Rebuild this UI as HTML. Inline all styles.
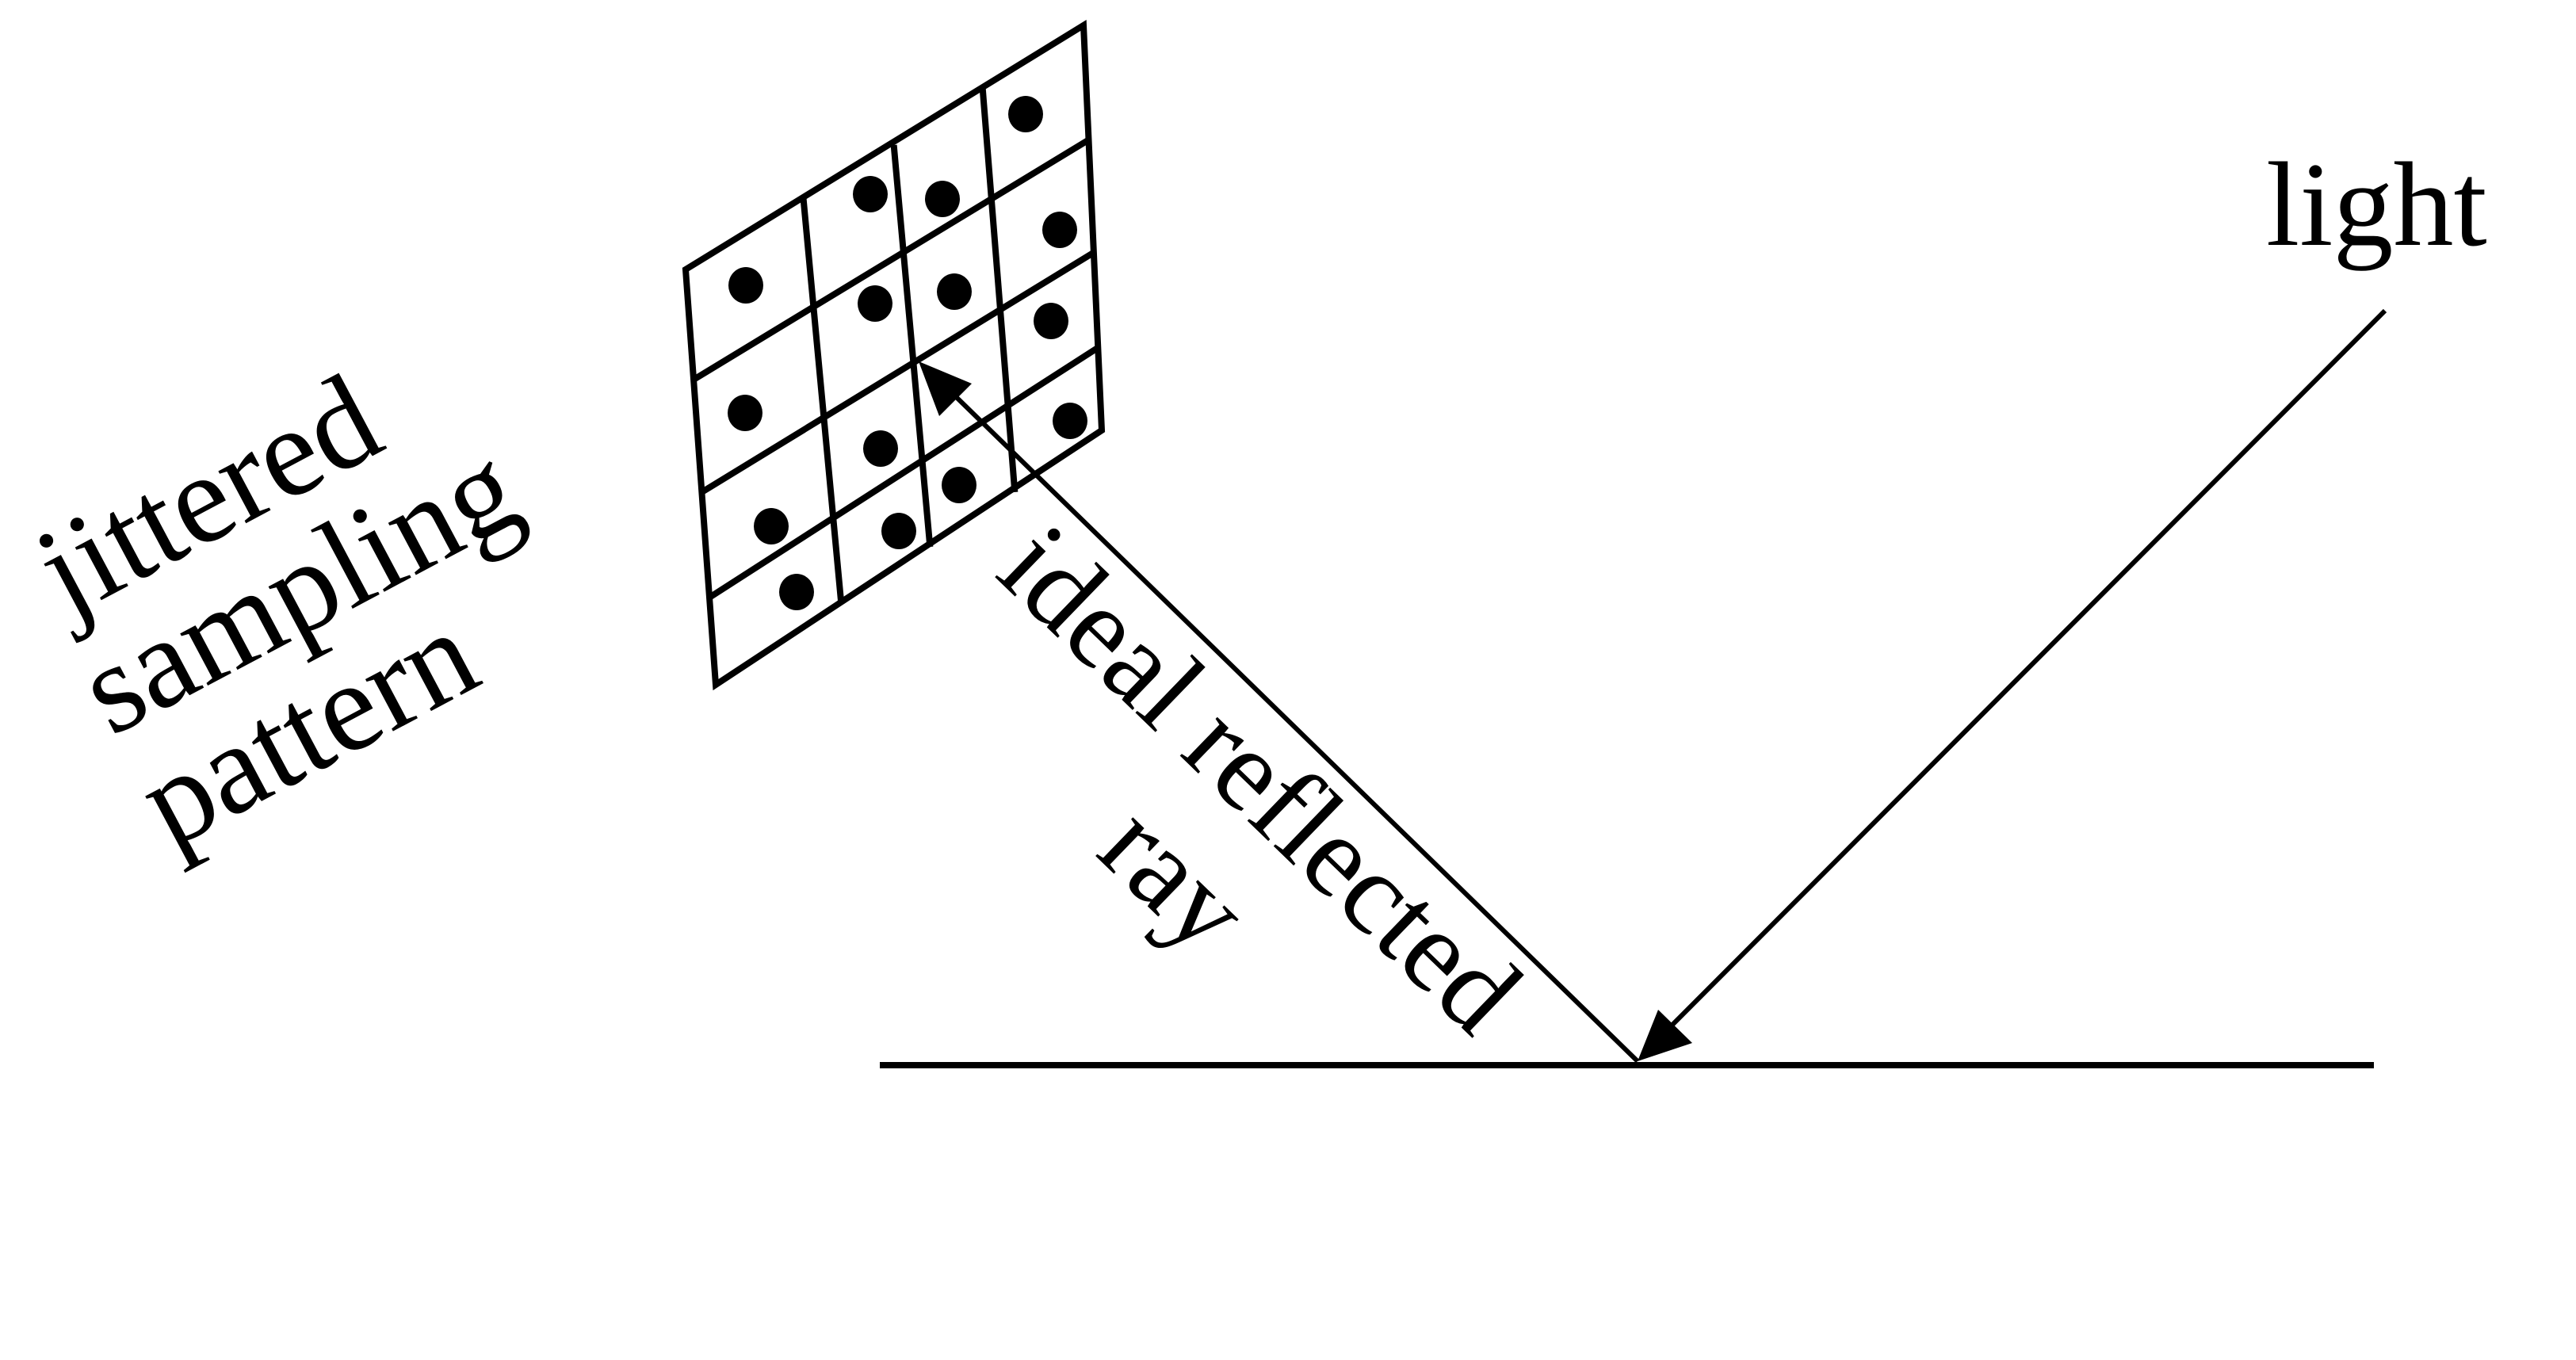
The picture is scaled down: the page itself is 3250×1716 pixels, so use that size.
<!DOCTYPE html>
<html><head><meta charset="utf-8"><style>
html,body{margin:0;padding:0;background:#fff;}
svg{display:block;}
text{font-family:"Liberation Serif","Times New Roman",serif;fill:#000;}
</style></head><body>
<svg width="3250" height="1716" viewBox="0 0 3250 1716" xmlns="http://www.w3.org/2000/svg">
<rect width="3250" height="1716" fill="#fff"/>
<g stroke="#000" stroke-width="8" fill="none" stroke-linecap="square">
<polygon points="865,340 1367,32 1390,543 903,864"/>
<line x1="1014" y1="255" x2="1061" y2="758"/>
<line x1="1128" y1="187" x2="1173" y2="686"/>
<line x1="1240" y1="115" x2="1280" y2="617"/>
<line x1="880" y1="476" x2="1371" y2="178"/>
<line x1="887" y1="620" x2="1376" y2="321"/>
<line x1="898" y1="752" x2="1380" y2="442"/>
</g>
<g fill="#000">
<ellipse cx="1294" cy="144" rx="22" ry="23"/>
<ellipse cx="1098" cy="245" rx="22" ry="23"/>
<ellipse cx="1189" cy="251" rx="22" ry="23"/>
<ellipse cx="1337" cy="290" rx="22" ry="23"/>
<ellipse cx="941" cy="360" rx="22" ry="23"/>
<ellipse cx="1104" cy="383" rx="22" ry="23"/>
<ellipse cx="1204" cy="368" rx="22" ry="23"/>
<ellipse cx="1326" cy="405" rx="22" ry="23"/>
<ellipse cx="940" cy="521" rx="22" ry="23"/>
<ellipse cx="1111" cy="566" rx="22" ry="23"/>
<ellipse cx="1350" cy="531" rx="22" ry="23"/>
<ellipse cx="1210" cy="612" rx="22" ry="23"/>
<ellipse cx="973" cy="664" rx="22" ry="23"/>
<ellipse cx="1134" cy="670" rx="22" ry="23"/>
<ellipse cx="1005" cy="747" rx="22" ry="23"/>
</g>
<line x1="1110" y1="1344" x2="2995" y2="1344" stroke="#000" stroke-width="8"/>
<line x1="2066" y1="1339" x2="1190" y2="485" stroke="#000" stroke-width="6"/>
<polygon points="1159,456 1226,484 1185,525" fill="#000"/>
<line x1="3009" y1="392" x2="2105" y2="1298" stroke="#000" stroke-width="6"/>
<polygon points="2066,1339 2092,1274 2135,1316" fill="#000"/>
<text x="2859" y="309" font-size="152">light</text>
<text x="85" y="780" font-size="162" transform="rotate(-28 85 780)">jittered</text>
<text x="140" y="930" font-size="162" transform="rotate(-28 140 930)">sampling</text>
<text x="215" y="1072" font-size="162" transform="rotate(-28 215 1072)">pattern</text>
<text x="1253" y="726" font-size="148" transform="rotate(44 1253 726)">ideal reflected</text>
<text x="1380" y="1078" font-size="148" transform="rotate(44 1380 1078)">ray</text>
</svg>
</body></html>
